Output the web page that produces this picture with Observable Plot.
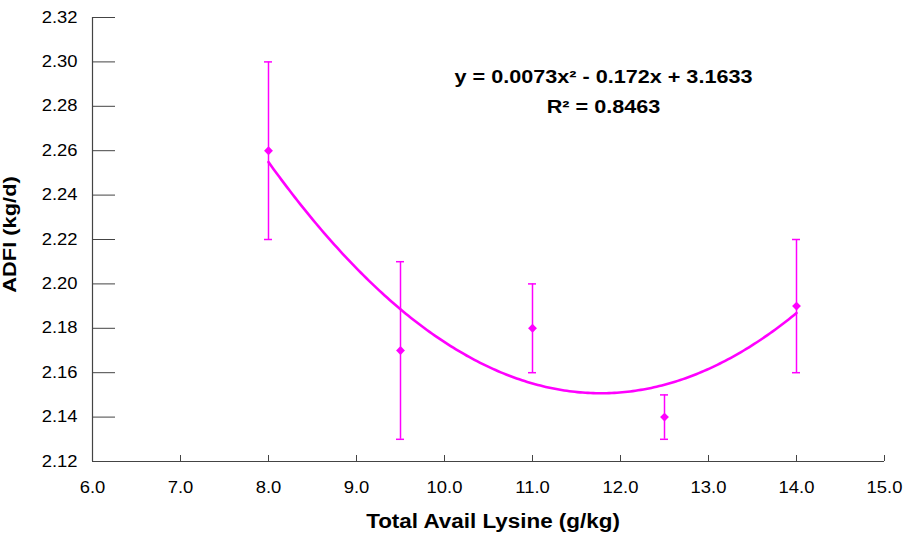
<!DOCTYPE html>
<html>
<head>
<meta charset="utf-8">
<script src="https://cdn.jsdelivr.net/npm/d3@7"></script>
<script src="https://cdn.jsdelivr.net/npm/@observablehq/plot@0.6"></script>
<style>
  html, body { margin: 0; padding: 0; background: #fff; }
  svg text { font-family: "Liberation Sans", Arial, sans-serif; }
</style>
</head>
<body>
<div id="chart"></div>
<script>
// Data
const lysine = [8.0, 9.5, 11.0, 12.5, 14.0];
const adfi   = [2.26, 2.17, 2.18, 2.14, 2.19];
const errLow  = [2.22, 2.13, 2.16, 2.13, 2.16];
const errHigh = [2.30, 2.21, 2.20, 2.15, 2.22];
const xTicks = [6, 7, 8, 9, 10, 11, 12, 13, 14, 15];
const yTicks = [2.12, 2.14, 2.16, 2.18, 2.20, 2.22, 2.24, 2.26, 2.28, 2.30, 2.32];
const equationLines = ["y = 0.0073x² - 0.172x + 3.1633", "R² = 0.8463"];

const points = lysine.map((x, i) => ({x, y: adfi[i], lo: errLow[i], hi: errHigh[i]}));

// Quadratic least-squares trendline computed from the data points
function quadFit(xs, ys) {
  let S = [0,0,0,0,0], T = [0,0,0];
  xs.forEach((x, i) => {
    for (let k = 0; k < 5; k++) S[k] += x ** k;
    for (let k = 0; k < 3; k++) T[k] += ys[i] * x ** k;
  });
  const A = [[S[0],S[1],S[2],T[0]],[S[1],S[2],S[3],T[1]],[S[2],S[3],S[4],T[2]]];
  for (let c = 0; c < 3; c++) {
    for (let r = c + 1; r < 3; r++) {
      const f = A[r][c] / A[c][c];
      for (let k = c; k < 4; k++) A[r][k] -= f * A[c][k];
    }
  }
  const b = [0,0,0];
  for (let r = 2; r >= 0; r--) {
    let s = A[r][3];
    for (let k = r + 1; k < 3; k++) s -= A[r][k] * b[k];
    b[r] = s / A[r][r];
  }
  return x => b[0] + b[1] * x + b[2] * x * x;
}
const fit = quadFit(lysine, adfi);
const xMin = d3.min(lysine), xMax = d3.max(lysine);
const trend = d3.range(0, 201).map(i => {
  const x = xMin + (xMax - xMin) * i / 200;
  return {x, y: fit(x)};
});

const magenta = "#FF00FF";
const axisColor = "#444";

const chart = Plot.plot({
  width: 908,
  height: 537,
  marginLeft: 92,
  marginRight: 24,
  marginTop: 17,
  marginBottom: 76,
  style: {fontFamily: "Liberation Sans, Arial, sans-serif", background: "#fff"},
  x: {domain: [6, 15]},
  y: {domain: [2.12, 2.32]},
  marks: [
    Plot.axisX(xTicks, {tickSize: 0, tickPadding: 20, tickFormat: d3.format(".1f"), fontSize: 16, fill: "#000", label: null}),
    Plot.axisY(yTicks, {tickSize: 0, tickPadding: 15, tickFormat: d3.format(".2f"), fontSize: 16, fill: "#000", label: null}),
    Plot.ruleX(xTicks, {x: d => d, insetTop: 438, stroke: axisColor, strokeWidth: 1}),
    Plot.ruleY(yTicks, {y: d => d, insetRight: 776 - 7, stroke: axisColor, strokeWidth: 1}),
    Plot.ruleX([6], {stroke: axisColor, strokeWidth: 1.2}),
    Plot.ruleY([2.12], {stroke: axisColor, strokeWidth: 1.2}),
    Plot.ruleX(points, {x: "x", y1: "lo", y2: "hi", stroke: magenta, strokeWidth: 1.5}),
    Plot.ruleY(points, {y: "lo", x1: "x", x2: "x", insetLeft: -4, insetRight: -4, stroke: magenta, strokeWidth: 1.5}),
    Plot.ruleY(points, {y: "hi", x1: "x", x2: "x", insetLeft: -4, insetRight: -4, stroke: magenta, strokeWidth: 1.5}),
    Plot.line(trend, {x: "x", y: "y", stroke: magenta, strokeWidth: 2.6, curve: "linear"}),
    Plot.dot(points, {x: "x", y: "y", symbol: "diamond2", r: 4, fill: magenta, stroke: "none"}),
    Plot.text([equationLines[0]], {frameAnchor: "top", dx: 115, dy: 60, lineAnchor: "middle", textAnchor: "middle", text: d => d, fontSize: 18, fontWeight: "bold", fill: "#000", className: "eq"}),
    Plot.text([equationLines[1]], {frameAnchor: "top", dx: 115, dy: 90, lineAnchor: "middle", textAnchor: "middle", text: d => d, fontSize: 18, fontWeight: "bold", fill: "#000", className: "eq"}),
    Plot.text(["Total Avail Lysine (g/kg)"], {frameAnchor: "bottom", dx: 4.5, dy: 60, lineAnchor: "middle", textAnchor: "middle", text: d => d, fontSize: 19.5, fontWeight: "bold", fill: "#000"}),
    Plot.text(["ADFI (kg/d)"], {frameAnchor: "left", dx: -83, dy: -5, rotate: -90, lineAnchor: "middle", textAnchor: "middle", text: d => d, fontSize: 19, fontWeight: "bold", fill: "#000"})
  ]
});
document.getElementById("chart").appendChild(chart);

// The reference's lettering is slightly wider than Liberation Sans: stretch each label along its length.
chart.querySelectorAll("text").forEach(t => {
  const w = t.getComputedTextLength();
  const inEq = t.closest(".eq") !== null;
  const stretch = inEq ? 1.2 : 1.15;
  if (w > 0) {
    t.setAttribute("textLength", (w * stretch).toFixed(2));
    t.setAttribute("lengthAdjust", "spacingAndGlyphs");
  }
});
</script>
</body>
</html>
